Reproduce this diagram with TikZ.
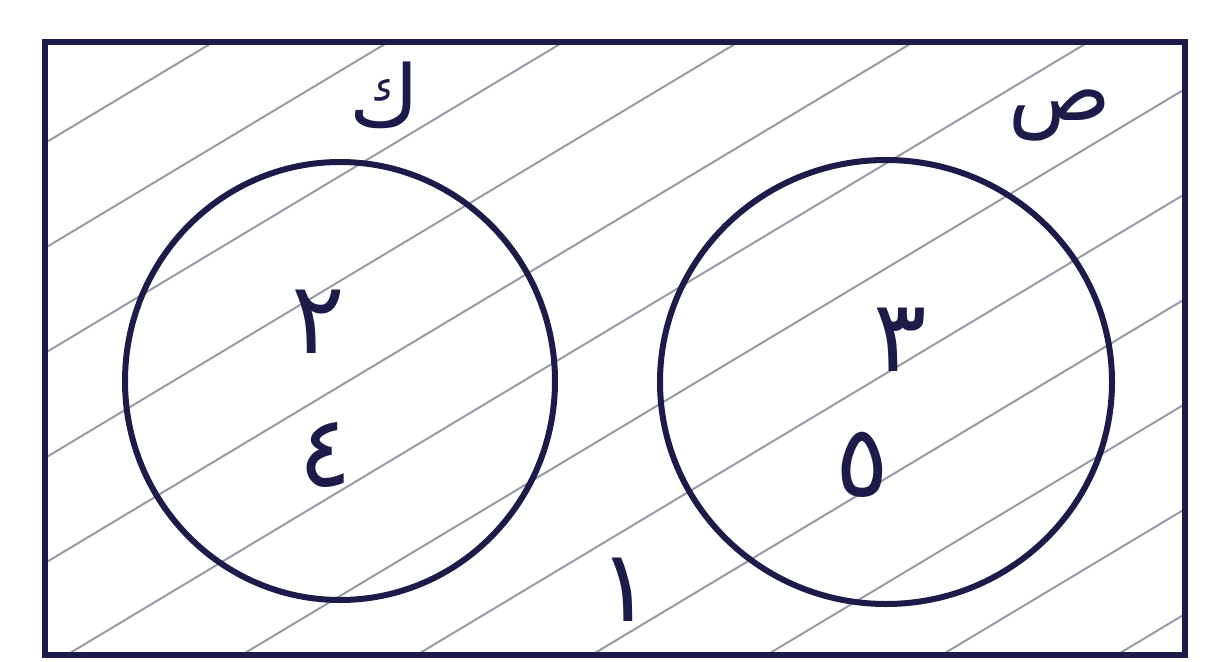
\documentclass[tikz,border=0pt]{standalone}
\usepackage{fontspec}
\TeXXeTstate=1
\newfontfamily\arabicfont[Script=Arabic]{DejaVu Sans}
\definecolor{ink}{HTML}{1C1B4A}
\definecolor{hatchc}{HTML}{9A9AA8}
\tikzset{
  frame/.style={draw=ink, line width=6pt, line cap=round},
  setc/.style={draw=ink, line width=6pt},
  hatchline/.style={draw=hatchc, line width=2pt},
  lbl/.style={text=ink, font=\arabicfont\fontsize{100}{100}\selectfont, inner sep=0pt},
  lbls/.style={text=ink, font=\arabicfont\fontsize{85}{85}\selectfont, inner sep=0pt}
}
\begin{document}
\begin{tikzpicture}[x=1pt,y=-1pt]
\useasboundingbox (0,0) rectangle (1209,661);
\fill[white] (0,0) rectangle (1209,661);
% hatching clipped to the universe
\begin{scope}
\clip (45,42) rectangle (1185,655);
\foreach \c in {170,275,380,485,590,695,800,905,1010,1115,1220,1325,1430}{
  \pgfmathsetmacro{\e}{\c-725.4}
  \draw[hatchline] (0,\c) -- (1209,\e);
}
\end{scope}
% universe
\draw[frame] (45,42) rectangle (1185,655);
% sets
\draw[setc] (340,381) ellipse [x radius=215, y radius=219];
\draw[setc] (886,382) ellipse [x radius=226, y radius=222];
% labels
\node[lbls] (k) at (385,95) {\beginR ك\endR};
\node[lbls] (s) at (1060,115) {\beginR ص\endR};
\node[lbl] (two) at (318,322) {\beginR ٢\endR};
\node[lbl] (four) at (325,455) {\beginR ٤\endR};
\node[lbl] (three) at (900,340) {\beginR ٣\endR};
\node[lbl] (five) at (862,465) {\beginR ٥\endR};
\node[lbl] (one) at (625,590) {\beginR ١\endR};
\end{tikzpicture}
\end{document}
